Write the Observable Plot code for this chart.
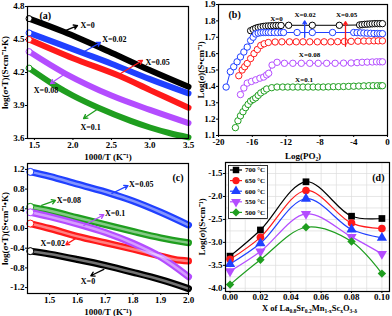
<!DOCTYPE html>
<html><head><meta charset="utf-8">
<script src="https://cdn.jsdelivr.net/npm/d3@7"></script>
<script src="https://cdn.jsdelivr.net/npm/@observablehq/plot@0.6"></script>
<style>
body{margin:0;background:#fff;}
#wrap{position:relative;width:392px;height:316px;overflow:hidden;font-family:"Liberation Serif","Times New Roman",serif;font-weight:bold;}
#wrap > svg, #wrap > div{position:absolute;}
.xl{font-size:8.5px;white-space:nowrap;line-height:8px;}
.xl sub{font-size:5.5px;vertical-align:-2px;line-height:0;}
</style></head><body><div id="wrap"></div>
<script>
// ---------- data ----------
const seriesNames = ["X=0","X=0.02","X=0.05","X=0.08","X=0.1"];

// panel (a): log(σT) vs 1000/T
const aX = [
  [1.43,1.88,2.5,3.0,3.5],
  [1.43,2.12,2.5,3.0,3.5],
  [1.43,2.0,2.6,3.0,3.5],
  [1.43,1.9,2.5,3.0,3.5],
  [1.43,1.75,2.0,2.33,2.75,3.0,3.25,3.5]
];
const aY = [
  [4.69,4.57,4.38,4.22,4.07],
  [4.56,4.38,4.28,4.14,4.01],
  [4.50,4.33,4.17,4.04,3.88],
  [4.39,4.19,3.99,3.86,3.74],
  [4.24,4.09,3.99,3.88,3.76,3.70,3.65,3.61]
];
const aLabelX = [2.098,2.38,2.942,1.492,2.098];
const aLabelY = [4.627,4.497,4.294,4.036,3.70];
const aArrowFrom = [[1.878,4.573],[2.124,4.382],[2.618,4.191],[1.904,4.191],[2.332,3.873]];
const aArrowTo = [[2.059,4.627],[2.358,4.473],[2.903,4.309],[1.709,4.10],[2.137,3.782]];

// panel (b): log(σ) vs log(PO2)
const bX = [
  [-16.2,-15.9,-15.6,-15.3,-15.0,-14.7,-14.4,-14.1,-13.8,-13.5,-13.2,-12.9,-12.6,-11.7,-8.9,-5.7,-3.3,-3.0,-2.7,-2.4,-2.1,-1.8,-1.5,-1.2,-0.9,-0.6],
  [-19.1,-18.6,-18.2,-17.8,-17.4,-17.0,-16.6,-16.2,-15.9,-15.6,-15.3,-15.0,-14.7,-14.4,-14.1,-13.8,-13.4,-13.0,-12.6,-12.3,-10.7,-8.9,-6.5,-4.0,-3.6,-3.2,-2.8,-2.4,-2.0,-1.6,-1.2,-0.9,-0.6],
  [-17.6,-17.2,-16.9,-16.6,-16.2,-15.8,-15.4,-15.0,-14.6,-14.1,-13.3,-12.5,-11.6,-10.8,-10.0,-9.2,-8.3,-7.5,-6.7,-5.9,-5.1,-4.3,-3.5,-2.8,-2.2,-1.6,-1.1,-0.6],
  [-17.4,-17.0,-16.6,-16.1,-15.6,-15.1,-14.65,-14.3,-14.06,-13.66,-13.07,-12.2,-11.2,-10.2,-9.2,-8.2,-7.2,-6.2,-5.2,-4.3,-3.6,-3.0,-2.4,-1.8,-1.3,-0.9,-0.6],
  [-18.0,-17.7,-17.4,-17.1,-16.8,-16.5,-16.2,-15.9,-15.6,-15.3,-15.0,-14.6,-14.3,-13.7,-13.07,-12.4,-11.8,-11.2,-10.6,-10.0,-9.4,-8.8,-8.2,-7.6,-7.0,-6.4,-5.8,-5.2,-4.6,-4.0,-3.4,-2.8,-2.2,-1.7,-1.2,-0.8,-0.6]
];
const bY = [
  [1.74,1.748,1.755,1.76,1.763,1.766,1.768,1.769,1.77,1.771,1.772,1.772,1.772,1.773,1.773,1.773,1.775,1.777,1.779,1.78,1.781,1.782,1.783,1.783,1.783,1.783],
  [1.396,1.49,1.52,1.55,1.58,1.61,1.64,1.68,1.70,1.72,1.725,1.728,1.729,1.729,1.729,1.729,1.729,1.729,1.729,1.729,1.729,1.729,1.729,1.729,1.728,1.727,1.726,1.725,1.724,1.723,1.723,1.722,1.722],
  [1.465,1.50,1.52,1.54,1.57,1.60,1.625,1.65,1.66,1.668,1.671,1.672,1.672,1.672,1.672,1.672,1.672,1.672,1.672,1.673,1.674,1.675,1.676,1.677,1.677,1.678,1.678,1.678],
  [1.35,1.39,1.42,1.43,1.44,1.45,1.457,1.47,1.48,1.53,1.547,1.541,1.541,1.541,1.541,1.541,1.541,1.541,1.542,1.543,1.545,1.547,1.548,1.549,1.55,1.55,1.55],
  [1.148,1.19,1.22,1.245,1.27,1.29,1.31,1.32,1.33,1.345,1.36,1.372,1.384,1.392,1.396,1.396,1.396,1.396,1.396,1.396,1.396,1.396,1.396,1.396,1.397,1.398,1.398,1.399,1.4,1.401,1.402,1.403,1.404,1.404,1.404,1.404,1.404]
];
const bLabelX = [-13.14,-9.76,-4.85,-9.23,-9.88];
const bLabelY = [1.815,1.839,1.839,1.595,1.442];
const bArrowFrom = [[-9.8,1.70],[-4.97,1.645]];
const bArrowTo = [[-9.8,1.80],[-4.97,1.795]];
const bArrowSeries = ["X=0.02","X=0.05"];

// panel (c): log(σT) vs 1000/T
const cX = [
  [1.43,1.5,1.6,1.7,1.8,1.9,2.0],
  [1.43,1.5,1.6,1.7,1.8,1.9,1.95,2.0],
  [1.43,1.5,1.6,1.72,1.8,1.9,2.0],
  [1.43,1.5,1.6,1.7,1.8,1.9,2.0],
  [1.43,1.5,1.62,1.7,1.8,1.9,2.0]
];
const cY = [
  [-0.46,-0.52,-0.63,-0.75,-0.89,-1.04,-1.22],
  [0.10,0.0,-0.16,-0.29,-0.42,-0.56,-0.63,-0.66],
  [1.15,1.06,0.90,0.71,0.56,0.33,0.07],
  [0.44,0.36,0.22,0.08,-0.06,-0.19,-0.29],
  [0.33,0.24,0.06,-0.08,-0.30,-0.58,-0.98]
];
const cLabelX = [1.612,1.467,1.786,1.525,1.699];
const cLabelY = [-1.08,-0.31,0.89,0.57,0.30];
const cArrowFrom = [[1.695,-0.83],[1.594,-0.20],[1.724,0.71],[1.471,0.47],[1.623,0.06]];
const cArrowTo = [[1.648,-0.96],[1.558,-0.33],[1.782,0.87],[1.521,0.57],[1.695,0.28]];

// panel (d): log(σ) vs X
const dX = [0.00,0.02,0.05,0.08,0.10];
const dTemps = ["700 °C","650 °C","600 °C","550 °C","500 °C"];
const dY = [
  [-3.30,-2.73,-1.68,-2.43,-2.48],
  [-3.37,-2.89,-1.87,-2.58,-2.70],
  [-3.47,-3.02,-2.05,-2.72,-2.90],
  [-3.63,-3.20,-2.38,-2.88,-3.25],
  [-3.92,-3.38,-2.67,-2.98,-3.68]
];
const dGridX = [0,0.01,0.02,0.03,0.04,0.05,0.06,0.07,0.08,0.09,0.10];
const dGridY = [-4,-3.75,-3.5,-3.25,-3,-2.75,-2.5,-2.25,-2,-1.75,-1.5,-1.25];

// ---------- styling ----------
const colors = ["#000000","#2040ff","#ff1a1a","#b44dff","#1f9e1f"];       // a, b series order
const cColors = ["#000000","#ff1a1a","#2040ff","#1f9e1f","#b44dff"];       // c order (X=0,0.02,0.05,0.08,0.1)
const dColors = ["#000000","#ff1a1a","#2040ff","#b44dff","#1f9e1f"];
const fmt1 = d => d.toFixed(1);
const baseStyle = {fontFamily:'"Liberation Serif","Times New Roman",serif', fontWeight:"bold", fontSize:"9px", background:"transparent", overflow:"visible"};
const wrap = document.getElementById("wrap");
function place(el, left, top){ el.style.left = left+"px"; el.style.top = top+"px"; wrap.appendChild(el); }
function rowsOf(names, xs, ys){ return names.flatMap((s,i)=>xs[i].map((x,j)=>({s, x, y: ys[i][j]}))); }

// ---------- panel (a) ----------
const aRows = rowsOf(seriesNames, aX, aY);
const aFirst = seriesNames.map((s,i)=>({s, x:aX[i][0], y:aY[i][0]}));
const aLabels = seriesNames.map((s,i)=>({s, x:aLabelX[i], y:aLabelY[i]}));
const aArrows = seriesNames.map((s,i)=>({s, x1:aArrowFrom[i][0], y1:aArrowFrom[i][1], x2:aArrowTo[i][0], y2:aArrowTo[i][1]}));
const plotA = Plot.plot({
  width:196, height:160, marginLeft:27, marginRight:8, marginTop:6, marginBottom:22,
  style: baseStyle,
  x:{domain:[1.41,3.5], ticks:[1.5,2,2.5,3,3.5], tickFormat:fmt1, tickSize:2, tickPadding:1, label:"1000/T (K⁻¹)", labelAnchor:"center", labelArrow:"none", labelOffset:21},
  y:{domain:[3.6,4.8], ticks:[3.6,3.9,4.2,4.5,4.8], tickFormat:fmt1, tickSize:2, tickPadding:1, label:"log(σ•T)(S•cm⁻¹•K)", labelAnchor:"center", labelArrow:"none", labelOffset:26},
  color:{domain:seriesNames, range:colors},
  marks:[
    Plot.line(aRows,{x:"x", y:"y", z:"s", stroke:"s", strokeWidth:6, curve:"catmull-rom"}),
    Plot.dot(aFirst,{x:"x", y:"y", stroke:"s", fill:"white", r:3, strokeWidth:1}),
    Plot.arrow(aArrows,{x1:"x1", y1:"y1", x2:"x2", y2:"y2", stroke:"s", strokeWidth:1.3, headLength:5}),
    Plot.text(aLabels,{x:"x", y:"y", text:"s", textAnchor:"start", fontSize:8}),
    Plot.text(["(a)"],{frameAnchor:"top-left", dx:12, dy:5, fontSize:10}),
    Plot.frame({strokeWidth:1.2})
  ]
});
place(plotA, 0, 0);

// ---------- panel (b) ----------
const bRows = rowsOf(seriesNames, bX, bY);
const bLabels = seriesNames.map((s,i)=>({s, x:bLabelX[i], y:bLabelY[i]}));
const bArrows = bArrowSeries.map((s,i)=>({s, x1:bArrowFrom[i][0], y1:bArrowFrom[i][1], x2:bArrowTo[i][0], y2:bArrowTo[i][1]}));
const plotB = Plot.plot({
  width:196, height:160, marginLeft:22, marginRight:5, marginTop:4, marginBottom:25,
  style: baseStyle,
  x:{domain:[-20,0], ticks:[-20,-16,-12,-8,-4,0], tickFormat:d=>String(d), tickSize:2, tickPadding:1, label:"Log(PO₂)", labelAnchor:"center", labelArrow:"none", labelOffset:23},
  y:{domain:[1.1,1.9], ticks:[1.1,1.2,1.3,1.4,1.5,1.6,1.7,1.8,1.9], tickFormat:fmt1, tickSize:2, tickPadding:1, label:"Log(σ)(S•cm⁻¹)", labelAnchor:"center", labelArrow:"none", labelOffset:21},
  color:{domain:seriesNames, range:colors},
  marks:[
    Plot.line(bRows,{x:"x", y:"y", z:"s", stroke:"s", strokeWidth:1}),
    Plot.dot(bRows,{x:"x", y:"y", stroke:"s", fill:"white", r:3.2, strokeWidth:1}),
    Plot.arrow(bArrows,{x1:"x1", y1:"y1", x2:"x2", y2:"y2", stroke:"s", strokeWidth:1.3, headLength:4}),
    Plot.text(bLabels,{x:"x", y:"y", text:"s", fontSize:7}),
    Plot.text(["(b)"],{frameAnchor:"top-left", dx:10, dy:6, fontSize:10}),
    Plot.frame({strokeWidth:1.2})
  ]
});
place(plotB, 196, 0);

// ---------- panel (c) ----------
const cRows = rowsOf(seriesNames, cX, cY);
const cFirst = seriesNames.map((s,i)=>({s, x:cX[i][0], y:cY[i][0]}));
const cLabels = seriesNames.map((s,i)=>({s, x:cLabelX[i], y:cLabelY[i]}));
const cArrows = seriesNames.map((s,i)=>({s, x1:cArrowFrom[i][0], y1:cArrowFrom[i][1], x2:cArrowTo[i][0], y2:cArrowTo[i][1]}));
const plotC = Plot.plot({
  width:196, height:161, marginLeft:27, marginRight:8, marginTop:8, marginBottom:23,
  style: baseStyle,
  x:{domain:[1.42,2.0], ticks:[1.5,1.6,1.7,1.8,1.9,2.0], tickFormat:fmt1, tickSize:2, tickPadding:1, label:"1000/T (K⁻¹)", labelAnchor:"center", labelArrow:"none", labelOffset:21},
  y:{domain:[-1.32,1.32], ticks:[-1.2,-0.8,-0.4,0,0.4,0.8,1.2], tickFormat:fmt1, tickSize:2, tickPadding:1, label:"log(σ•T)(S•cm⁻¹•K)", labelAnchor:"center", labelArrow:"none", labelOffset:26},
  color:{domain:seriesNames, range:cColors},
  marks:[
    Plot.line(cRows,{x:"x", y:"y", z:"s", stroke:"s", strokeWidth:7, curve:"catmull-rom"}),
    Plot.line(cRows,{x:"x", y:"y", z:"s", stroke:"white", strokeOpacity:0.45, strokeWidth:2.5, curve:"catmull-rom"}),
    Plot.dot(cFirst,{x:"x", y:"y", stroke:"s", fill:"white", r:3.5, strokeWidth:1}),
    Plot.arrow(cArrows,{x1:"x1", y1:"y1", x2:"x2", y2:"y2", stroke:"s", strokeWidth:1.3, headLength:5}),
    Plot.text(cLabels,{x:"x", y:"y", text:"s", textAnchor:"start", fontSize:8}),
    Plot.text(["(c)"],{frameAnchor:"top-right", dx:-5, dy:10, fontSize:10}),
    Plot.frame({strokeWidth:1.2})
  ]
});
place(plotC, 0, 155);

// ---------- panel (d) ----------
const dRows = dTemps.flatMap((t,i)=>dX.map((x,j)=>({t, x, y:dY[i][j]})));
const plotD = Plot.plot({
  width:196, height:161, marginLeft:29, marginRight:3, marginTop:7, marginBottom:25,
  style: baseStyle,
  x:{domain:[-0.003,0.105], ticks:[0,0.02,0.04,0.06,0.08,0.1], tickFormat:d=>d.toFixed(2), tickSize:2, tickPadding:0, label:null},
  y:{domain:[-4.07,-1.26], ticks:[-4,-3.5,-3,-2.5,-2,-1.5], tickFormat:fmt1, tickSize:2, tickPadding:1, label:"Log(σ)(S•cm⁻¹)", labelAnchor:"center", labelArrow:"none", labelOffset:27},
  color:{domain:dTemps, range:dColors},
  symbol:{domain:dTemps, range:["square","circle","triangle","triangle","diamond2"]},
  marks:[
    Plot.ruleX(dGridX,{stroke:"#dcdcdc", strokeWidth:0.7}),
    Plot.ruleY(dGridY,{stroke:"#dcdcdc", strokeWidth:0.7}),
    Plot.line(dRows,{x:"x", y:"y", z:"t", stroke:"t", strokeWidth:1.2, curve:"catmull-rom"}),
    Plot.dot(dRows,{x:"x", y:"y", symbol:"t", fill:"t", r:3.8, rotate:d=>d.t==="550 °C"?180:0}),
    Plot.text(["(d)"],{frameAnchor:"top-right", dx:-5, dy:11, fontSize:10}),
    Plot.frame({strokeWidth:1.2})
  ]
});
place(plotD, 196, 155);

// x label of panel (d)
const dLab = document.createElement("div");
dLab.className = "xl";
dLab.innerHTML = "X of La<sub>0.8</sub>Sr<sub>0.2</sub>Mn<sub>1-x</sub>Sc<sub>x</sub>O<sub>3-δ</sub>";
place(dLab, 262, 304);

// legend of panel (d)
const lg = d3.create("svg").attr("width",40).attr("height",54)
  .style("font-family",'"Liberation Serif",serif').style("font-weight","bold").style("font-size","7px");
lg.append("rect").attr("x",0.5).attr("y",0.5).attr("width",39).attr("height",53).attr("fill","white").attr("stroke","black").attr("stroke-width",0.8);
const symTypes = [d3.symbolSquare,d3.symbolCircle,d3.symbolTriangle,d3.symbolTriangle,d3.symbolDiamond2];
dTemps.forEach((t,i)=>{
  const y = 5 + i*10.6;
  lg.append("line").attr("x1",2).attr("x2",14).attr("y1",y).attr("y2",y).attr("stroke",dColors[i]).attr("stroke-width",1.2);
  lg.append("path").attr("d",d3.symbol(symTypes[i],42)()).attr("fill",dColors[i])
    .attr("transform",`translate(8,${y})` + (i===3?" rotate(180)":""));
  lg.append("text").attr("x",17).attr("y",y).attr("dy","0.35em").text(t);
});
place(lg.node(), 228, 165);
</script></body></html>
